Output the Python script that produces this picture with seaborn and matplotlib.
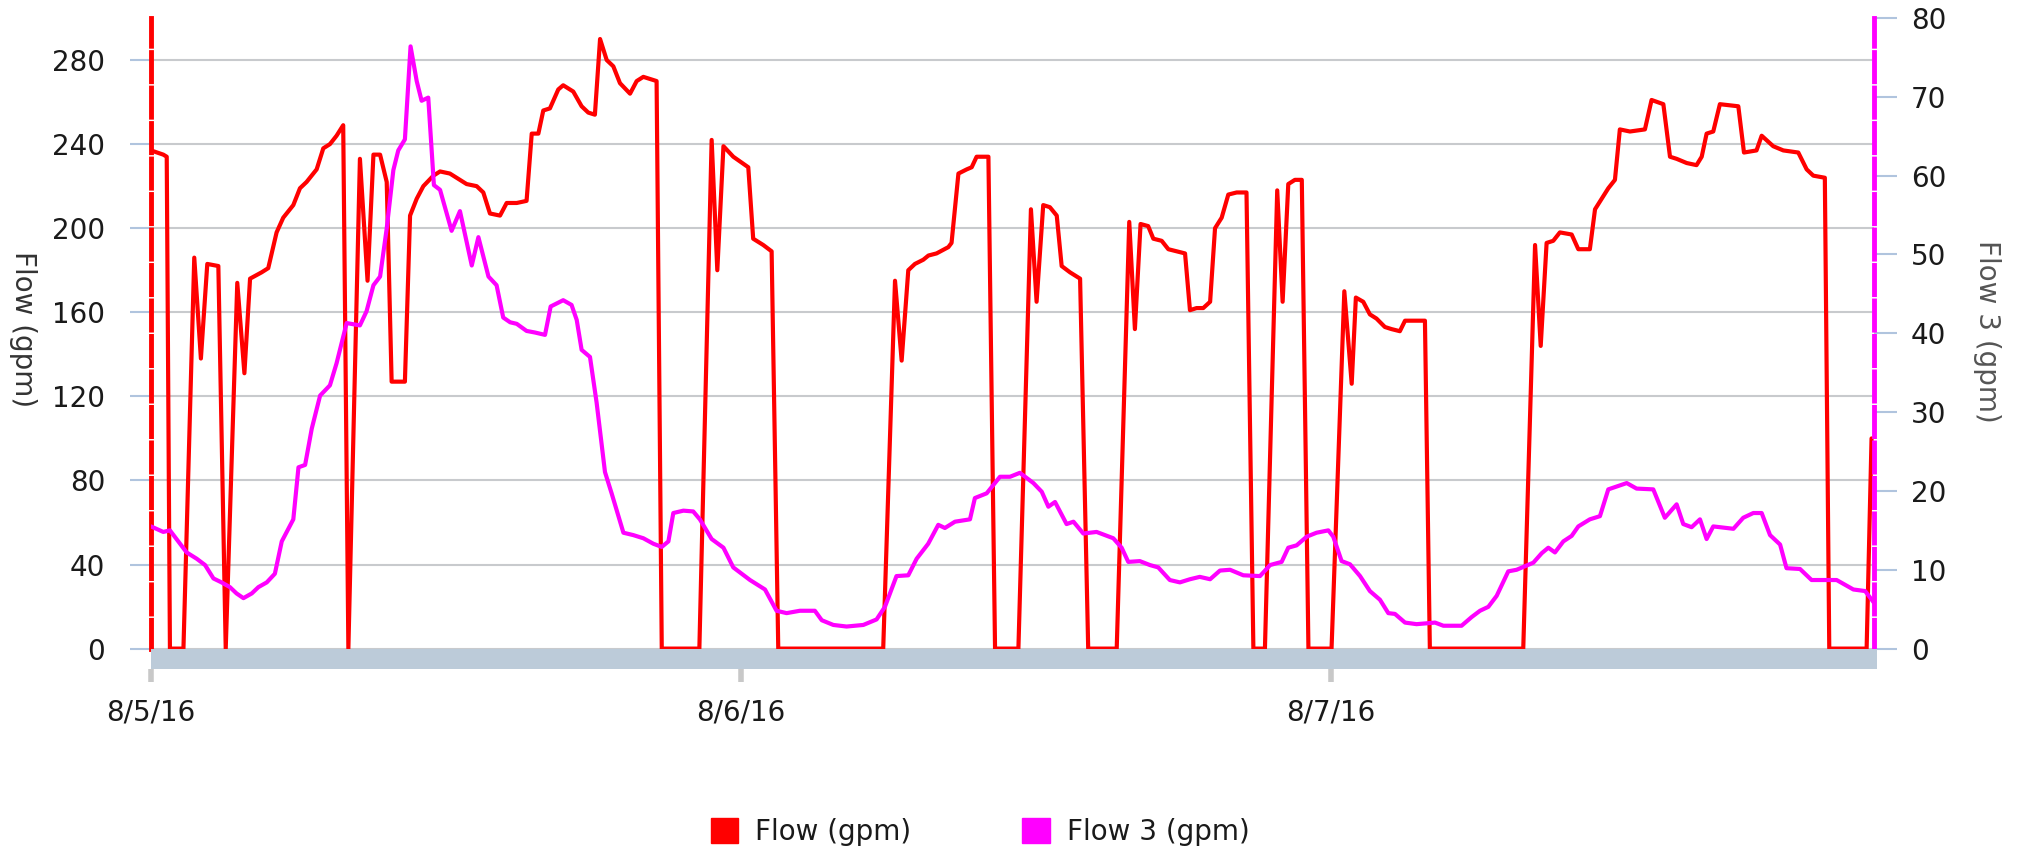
import matplotlib
matplotlib.use("Agg")
import matplotlib.pyplot as plt
import matplotlib.patches as mpatches
import seaborn as sns
import pandas as pd

sns.set_style("white")
plt.rcParams['font.family'] = ['DejaVu Sans']

# Flow (gpm), left axis -- hours since 8/5/16 00:00
flow_hours = [0.0, 0.50, 0.64, 0.77, 1.32, 1.76, 2.03, 2.29, 2.74, 3.04, 3.51, 3.80, 4.03, 4.50, 4.77,
              5.11, 5.38, 5.79, 6.06, 6.33, 6.74, 7.01, 7.28, 7.55, 7.82, 8.03, 8.50, 8.81, 9.05, 9.32,
              9.59, 9.79, 10.33, 10.54, 10.81, 11.08, 11.49, 11.76, 12.16, 12.57, 12.84, 13.25, 13.52,
              13.79, 14.20, 14.47, 14.88, 15.28, 15.49, 15.76, 15.96, 16.23, 16.57, 16.77, 17.18, 17.52,
              17.79, 18.06, 18.27, 18.54, 18.81, 19.08, 19.49, 19.76, 20.03, 20.57, 20.78, 22.31, 22.81,
              23.04, 23.29, 23.69, 24.30, 24.50, 24.91, 25.25, 25.52, 29.79, 30.27, 30.54, 30.81, 31.08,
              31.42, 31.63, 31.96, 32.44, 32.57, 32.85, 33.19, 33.39, 33.59, 34.07, 34.34, 35.29, 35.80,
              36.03, 36.30, 36.57, 36.85, 37.05, 37.39, 37.80, 38.13, 39.29, 39.80, 40.03, 40.26, 40.57,
              40.78, 41.12, 41.39, 41.73, 42.07, 42.27, 42.54, 42.81, 43.09, 43.29, 43.56, 43.83, 44.17,
              44.57, 44.85, 45.32, 45.82, 46.04, 46.27, 46.54, 46.82, 47.09, 48.03, 48.55, 48.85, 49.02,
              49.32, 49.59, 49.86, 50.20, 50.47, 50.81, 51.02, 51.36, 51.83, 52.03, 55.83, 56.31, 56.54,
              56.78, 57.05, 57.32, 57.80, 58.07, 58.54, 58.75, 59.02, 59.29, 59.56, 59.76, 60.17, 60.78,
              61.05, 61.53, 61.80, 62.07, 62.48, 62.88, 63.09, 63.29, 63.56, 63.83, 64.58, 64.81, 65.32,
              65.53, 66.00, 66.41, 67.02, 67.36, 67.63, 68.10, 68.28, 69.80, 70.00]
flow_gpm = [237, 235, 234, 0, 0, 186, 138, 183, 182, 0, 174, 131, 176, 179, 181,
            198, 205, 211, 219, 222, 228, 238, 240, 244, 249, 0, 233, 175, 235, 235,
            222, 127, 127, 206, 214, 220, 225, 227, 226, 223, 221, 220, 217,
            207, 206, 212, 212, 213, 245, 245, 256, 257, 266, 268, 265, 258,
            255, 254, 290, 280, 277, 269, 264, 270, 272, 270, 0, 0, 242,
            180, 239, 234, 229, 195, 192, 189, 0, 0, 175, 137, 180, 183,
            185, 187, 188, 191, 193, 226, 228, 229, 234, 234, 0, 0, 209,
            165, 211, 210, 206, 182, 179, 176, 0, 0, 203, 152, 202, 201,
            195, 194, 190, 189, 188, 161, 162, 162, 165, 200, 205, 216, 217,
            217, 0, 0, 218, 165, 221, 223, 223, 0, 0, 170, 126, 167,
            165, 159, 157, 153, 152, 151, 156, 156, 156, 0, 0, 192, 144,
            193, 194, 198, 197, 190, 190, 209, 214, 219, 223, 247, 246, 247,
            261, 259, 234, 233, 231, 230, 234, 245, 246, 259, 258, 236, 237,
            244, 239, 237, 236, 228, 225, 224, 0, 0, 100]

# Flow 3 (gpm), right axis
flow3_hours = [0.0, 0.50, 0.77, 1.18, 1.45, 1.86, 2.20, 2.54, 2.87, 3.21, 3.48, 3.76, 4.10, 4.37, 4.71,
               5.04, 5.32, 5.79, 6.00, 6.27, 6.54, 6.88, 7.28, 7.55, 7.96, 8.50, 8.77, 9.05, 9.32, 9.59,
               9.86, 10.06, 10.33, 10.56, 10.81, 11.01, 11.28, 11.51, 11.76, 12.23, 12.57, 13.05, 13.32,
               13.73, 14.06, 14.33, 14.61, 14.88, 15.28, 15.62, 16.03, 16.26, 16.77, 17.11, 17.32, 17.52,
               17.86, 18.13, 18.47, 18.74, 19.22, 19.62, 20.03, 20.44, 20.78, 21.05, 21.25, 21.66, 22.06,
               22.33, 22.81, 23.29, 23.69, 24.37, 24.98, 25.45, 25.86, 26.40, 27.01, 27.29, 27.76, 28.30,
               28.98, 29.52, 29.86, 30.33, 30.81, 31.15, 31.62, 32.03, 32.30, 32.71, 33.32, 33.52, 34.00,
               34.54, 34.95, 35.35, 35.90, 36.24, 36.51, 36.78, 37.25, 37.53, 37.93, 38.47, 39.15, 39.49,
               39.76, 40.23, 40.64, 40.98, 41.45, 41.86, 42.27, 42.67, 43.09, 43.49, 43.90, 44.44, 45.12,
               45.53, 46.00, 46.27, 46.61, 47.02, 47.42, 47.90, 48.10, 48.44, 48.78, 49.19, 49.59, 50.00,
               50.34, 50.61, 51.02, 51.49, 52.24, 52.58, 53.32, 53.73, 54.07, 54.41, 54.75, 55.22, 55.56,
               56.24, 56.58, 56.85, 57.12, 57.46, 57.80, 58.07, 58.54, 58.95, 59.29, 60.04, 60.44, 61.12,
               61.59, 62.07, 62.34, 62.68, 63.02, 63.29, 63.56, 64.38, 64.78, 65.19, 65.53, 65.87, 66.28,
               66.54, 67.09, 67.56, 68.58, 69.26, 69.74, 70.08]
flow3_gpm = [15.5, 14.8, 15.0, 13.3, 12.2, 11.4, 10.6, 8.9, 8.4, 7.8, 7.0, 6.4, 7.0, 7.8, 8.4,
             9.5, 13.6, 16.4, 23.0, 23.3, 27.9, 32.1, 33.4, 36.2, 41.3, 41.0, 42.8, 46.1, 47.2, 53.3,
             60.7, 63.2, 64.6, 76.4, 72.0, 69.5, 69.9, 58.8, 58.2, 53.0, 55.5, 48.6, 52.2,
             47.2, 46.1, 42.0, 41.4, 41.2, 40.3, 40.1, 39.8, 43.4, 44.2, 43.6, 41.7, 37.9,
             37.0, 31.2, 22.4, 19.7, 14.7, 14.4, 14.0, 13.3, 12.9, 13.6, 17.2, 17.5, 17.4,
             16.4, 13.9, 12.8, 10.3, 8.7, 7.5, 4.8, 4.5, 4.8, 4.8, 3.6, 3.0, 2.8,
             3.0, 3.7, 5.3, 9.2, 9.3, 11.4, 13.3, 15.7, 15.3, 16.1, 16.4, 19.1, 19.7,
             21.8, 21.8, 22.3, 21.0, 19.9, 18.0, 18.6, 15.8, 16.1, 14.6, 14.8, 14.0, 12.8,
             11.0, 11.1, 10.6, 10.3, 8.7, 8.4, 8.8, 9.1, 8.8, 9.9, 10.0, 9.3, 9.2,
             10.6, 11.0, 12.8, 13.1, 14.2, 14.7, 15.0, 14.2, 11.1, 10.7, 9.2, 7.3, 6.2,
             4.5, 4.4, 3.3, 3.1, 3.3, 2.9, 2.9, 4.0, 4.8, 5.3, 6.7, 9.8, 10.0,
             10.9, 12.1, 12.8, 12.2, 13.6, 14.3, 15.5, 16.4, 16.8, 20.2, 21.0, 20.3, 20.2,
             16.6, 18.3, 15.8, 15.4, 16.4, 13.9, 15.5, 15.2, 16.6, 17.2, 17.2, 14.4, 13.2,
             10.2, 10.1, 8.7, 8.7, 7.5, 7.3, 5.9]

day_ticks = [0, 24, 48]
day_labels = ['8/5/16', '8/6/16', '8/7/16']
left_ticks = list(range(0, 281, 40))
right_ticks = list(range(0, 81, 10))

df_flow = pd.DataFrame({'hours': flow_hours, 'flow': flow_gpm})
df_flow3 = pd.DataFrame({'hours': flow3_hours, 'flow3': flow3_gpm})

W, H = 2022, 852
fig = plt.figure(figsize=(W / 100, H / 100), dpi=100)
ax = fig.add_axes([151 / W, 1 - 648.6 / H, (1874 - 151) / W, (648.6 - 18) / H])
ax2 = ax.twinx()

sns.lineplot(data=df_flow, x='hours', y='flow', ax=ax, color='#ff0000', lw=3, legend=False)
sns.lineplot(data=df_flow3, x='hours', y='flow3', ax=ax2, color='#ff00ff', lw=3, legend=False)

ax.set_xlim(0, 70.1)
ax.set_ylim(0, 300)
ax2.set_ylim(0, 80)
ax.set_yticks(left_ticks)
ax2.set_yticks(right_ticks)
ax.set_xticks(day_ticks)
ax.set_xticklabels(day_labels)
ax.set_xlabel('')
ax.set_ylabel('')
ax2.set_ylabel('')

ax.yaxis.grid(True, color='#c8cacd', lw=1.5)
ax.xaxis.grid(False)
ax.set_axisbelow(True)

for s in ['top', 'right', 'bottom']:
    ax.spines[s].set_visible(False)
for s in ['top', 'left', 'bottom']:
    ax2.spines[s].set_visible(False)
ax.spines['left'].set_color('#ff0000')
ax.spines['left'].set_linewidth(3.5)
ax.spines['left'].set_linestyle((0, (6, 1.3)))
ax2.spines['right'].set_color('#ff00ff')
ax2.spines['right'].set_linewidth(3.5)
ax2.spines['right'].set_linestyle((0, (6, 1.3)))
ax.spines['bottom'].set_position(('outward', 14.4))

ax.tick_params(axis='x', bottom=True, length=9.4, width=4, color='#c8c8c8', pad=12,
               labelsize=20, labelcolor='#1a1a1a')
ax.tick_params(axis='y', left=True, length=15, width=1.5, color='#b0c4de', pad=18,
               labelsize=20, labelcolor='#1a1a1a')
ax2.tick_params(axis='y', right=True, length=16.5, width=1.5, color='#b0c4de', pad=10,
                labelsize=20, labelcolor='#1a1a1a')

# grey floor band under the zero line
fig.add_artist(mpatches.Rectangle((151 / W, 1 - 669 / H), (1877 - 151) / W, 20 / H,
                                  transform=fig.transFigure, facecolor='#bccbd9',
                                  edgecolor='none', zorder=3))

fig.text(23 / W, 1 - 329 / H, 'Flow (gpm)', rotation=-90, ha='center', va='center',
         fontsize=20, color='#333333')
fig.text(1987 / W, 1 - 331 / H, 'Flow 3 (gpm)', rotation=-90, ha='center', va='center',
         fontsize=20, color='#555555')

handles = [mpatches.Patch(color='#ff0000', label='Flow (gpm)'),
           mpatches.Patch(color='#ff00ff', label='Flow 3 (gpm)')]
leg = fig.legend(handles=handles, loc='center', bbox_to_anchor=(980 / W, 1 - 832 / H), ncol=2,
                 frameon=False, fontsize=20, handlelength=1.0, handleheight=1.0,
                 handletextpad=0.6, columnspacing=4.0)
for t in leg.get_texts():
    t.set_color('#1a1a1a')

fig.savefig('out.png', dpi=100)
